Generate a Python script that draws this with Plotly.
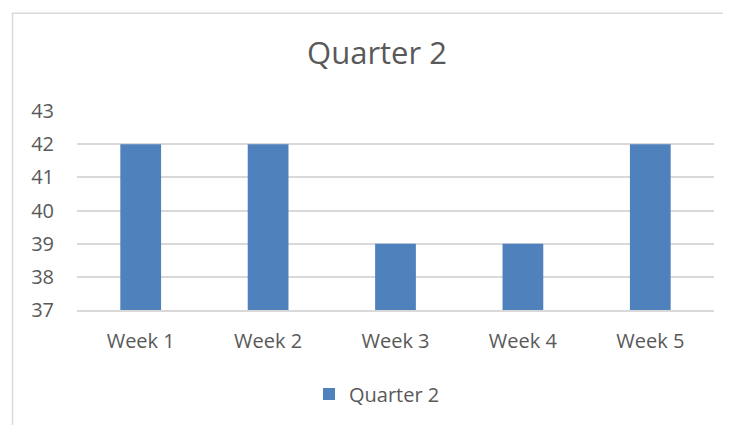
import plotly.graph_objects as go

categories = ["Week 1", "Week 2", "Week 3", "Week 4", "Week 5"]
values = [42, 42, 39, 39, 42]
series_name = "Quarter 2"
y_ticks = [37, 38, 39, 40, 41, 42, 43]

# page body adds an 8px offset; work in figure pixels = reference pixels - 8
OFF = 8
W, H = 731 - OFF, 425 - OFF
L, R, T, B = 77 - OFF, 17, 110.5 - OFF, 425 - 310
pw, ph = W - L - R, H - T - B

def px_x(p):
    return (p - OFF - L) / pw

def px_y(p):
    return (H - B - (p - OFF)) / ph

font = "Open Sans"
txt = "#595959"

fig = go.Figure()
fig.add_trace(go.Bar(
    x=categories, y=values, name=series_name,
    marker=dict(color="#4F81BD", line=dict(width=0)),
    width=0.32, base=0,
))

fig.update_layout(
    width=W, height=H,
    margin=dict(l=L, r=R, t=T, b=B, pad=0),
    paper_bgcolor="white", plot_bgcolor="white",
    font=dict(family=font, color=txt, size=20),
    title=dict(text="Quarter 2", x=px_x(377), xref="paper", xanchor="center",
               y=1 - (53 - OFF) / H, yref="container", yanchor="middle",
               font=dict(family=font, size=31, color=txt)),
    showlegend=True,
    legend=dict(orientation="h", x=px_x(377), xanchor="center", xref="paper",
                y=1 - (394 - OFF) / H, yref="container", yanchor="middle",
                font=dict(family=font, size=20, color=txt)),
    bargap=0.68,
    xaxis=dict(showgrid=False, showline=True, linecolor="#d9d9d9", linewidth=1.5,
               ticks="", tickfont=dict(family=font, size=20, color=txt), ticklabelstandoff=12),
    yaxis=dict(range=[37, 43], tickvals=y_ticks, showgrid=True, gridcolor="#d9d9d9",
               gridwidth=1.5, zeroline=False, showline=False, ticks="",
               tickfont=dict(family=font, size=20, color=txt), ticklabelstandoff=22),
)

fig.add_shape(type="line", xref="paper", yref="paper",
              x0=px_x(12.5), x1=px_x(12.5), y0=px_y(12), y1=px_y(440),
              line=dict(color="#d9d9d9", width=1.5))
fig.add_shape(type="line", xref="paper", yref="paper",
              x0=px_x(12.5), x1=px_x(740), y0=px_y(12.5), y1=px_y(12.5),
              line=dict(color="#d9d9d9", width=1.5))

fig.write_html("out.html")
